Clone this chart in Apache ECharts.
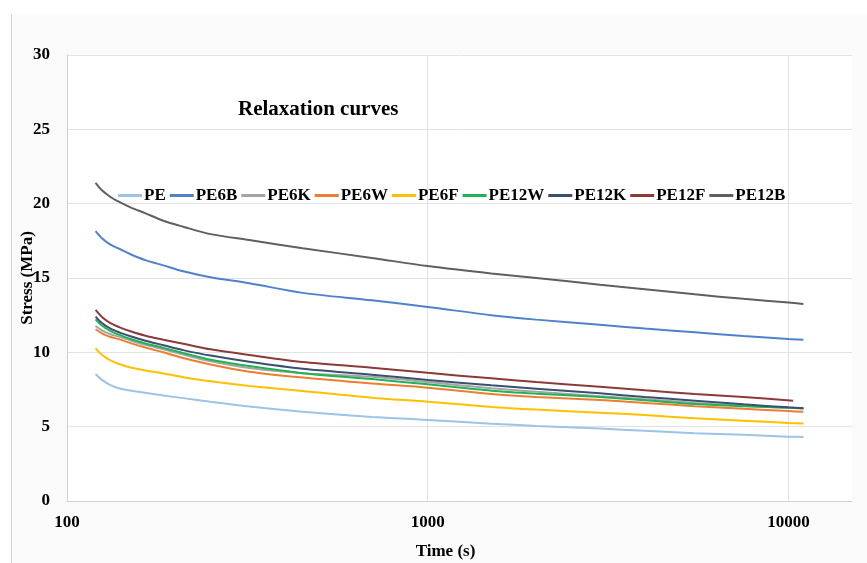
<!DOCTYPE html>
<html>
<head>
<meta charset="utf-8">
<script src="https://cdn.jsdelivr.net/npm/echarts@6/dist/echarts.min.js"></script>
<style>
  html, body { margin: 0; padding: 0; background: #ffffff; }
  #bg { position: absolute; left: 11px; top: 14px; width: 856px; height: 549px; background: #fafafa; border-left: 1px solid #d4d4d4; }
  #chart { position: absolute; left: 0; top: 0; width: 867px; height: 563px; }
</style>
</head>
<body>
<div id="bg"></div>
<div id="chart"></div>
<script>
// ---- Data ----
const times      = [120, 125, 132, 140, 150, 165, 185, 210, 250, 320, 450, 700, 1000, 1500, 2000, 3000, 4000, 5500, 7500, 10000, 11000];
const timesPE12F = [120, 125, 132, 140, 150, 165, 185, 210, 250, 320, 450, 700, 1000, 1500, 2000, 3000, 4000, 5500, 7500, 10300];

const PE    = [8.54, 8.15, 7.80, 7.57, 7.43, 7.27, 7.09, 6.92, 6.68, 6.35, 6.00, 5.65, 5.45, 5.20, 5.05, 4.87, 4.72, 4.56, 4.45, 4.33, 4.30];
const PE6B  = [18.15, 17.67, 17.24, 16.95, 16.60, 16.20, 15.85, 15.45, 15.05, 14.65, 14.00, 13.50, 13.05, 12.50, 12.20, 11.85, 11.60, 11.35, 11.10, 10.90, 10.85];
const PE6K  = [11.77, 11.48, 11.22, 11.04, 10.80, 10.50, 10.20, 9.85, 9.40, 8.95, 8.60, 8.35, 8.00, 7.58, 7.35, 7.05, 6.85, 6.60, 6.40, 6.28, 6.22];
const PE6W  = [11.55, 11.28, 11.03, 10.87, 10.62, 10.32, 10.00, 9.62, 9.18, 8.70, 8.30, 7.90, 7.62, 7.20, 7.00, 6.80, 6.60, 6.38, 6.20, 6.05, 6.00];
const PE6F  = [10.27, 9.84, 9.46, 9.20, 8.98, 8.78, 8.58, 8.33, 8.05, 7.74, 7.40, 6.95, 6.68, 6.33, 6.15, 5.94, 5.78, 5.56, 5.40, 5.25, 5.22];
const PE12W = [12.22, 11.80, 11.42, 11.17, 10.90, 10.60, 10.30, 9.95, 9.50, 9.08, 8.60, 8.20, 7.85, 7.42, 7.22, 7.00, 6.78, 6.52, 6.38, 6.27, 6.24];
const PE12K = [12.40, 11.97, 11.59, 11.33, 11.08, 10.78, 10.48, 10.15, 9.78, 9.37, 8.90, 8.50, 8.14, 7.78, 7.55, 7.24, 7.00, 6.75, 6.50, 6.30, 6.24];
const PE12F = [12.85, 12.38, 11.96, 11.68, 11.42, 11.12, 10.85, 10.58, 10.20, 9.82, 9.35, 8.97, 8.62, 8.25, 8.00, 7.69, 7.45, 7.20, 7.00, 6.75];
const PE12B = [21.40, 20.90, 20.45, 20.10, 19.75, 19.35, 18.85, 18.45, 17.95, 17.55, 17.00, 16.35, 15.80, 15.30, 15.00, 14.55, 14.25, 13.90, 13.60, 13.35, 13.25];

const seriesNames  = ['PE', 'PE6B', 'PE6K', 'PE6W', 'PE6F', 'PE12W', 'PE12K', 'PE12F', 'PE12B'];
const seriesValues = [PE, PE6B, PE6K, PE6W, PE6F, PE12W, PE12K, PE12F, PE12B];
const seriesTimes  = [times, times, times, times, times, times, times, timesPE12F, times];
const seriesColors = ['#9dc3e6', '#4f81cc', '#a5a5a5', '#ed7d31', '#ffc000', '#1fb356', '#3b4f6f', '#8b3a3a', '#5f5f5f'];

const xTickLabels = [100, 1000, 10000];
const yTicks = { min: 0, max: 30, interval: 5 };

const FONT = '"Liberation Serif", "DejaVu Serif", serif';

const chart = echarts.init(document.getElementById('chart'), null, { renderer: 'canvas' });

const series = seriesNames.map((name, i) => ({
  name: name,
  type: 'line',
  symbol: 'none',
  smooth: 0.3,
  lineStyle: { width: 2, color: seriesColors[i] },
  itemStyle: { color: seriesColors[i] },
  data: seriesTimes[i].map((t, j) => [t, seriesValues[i][j]])
}));

chart.setOption({
  animation: false,
  backgroundColor: 'transparent',
  title: {
    text: 'Relaxation curves',
    left: 233, top: 94,
    textStyle: { fontFamily: FONT, fontWeight: 'bold', fontSize: 21, color: '#000' }
  },
  legend: {
    data: seriesNames,
    left: 113, top: 182,
    itemWidth: 24, itemHeight: 3, itemGap: 4,
    icon: 'rect',
    textStyle: { fontFamily: FONT, fontWeight: 'bold', fontSize: 17, color: '#000', padding: [0, 0, 0, -3] }
  },
  grid: {
    left: 67, right: 15, top: 55, bottom: 62,
    containLabel: false,
    outerBoundsMode: 'none',
    show: true, backgroundColor: '#ffffff', borderWidth: 0
  },
  xAxis: {
    type: 'log', logBase: 10, min: 100, max: 15000,
    name: 'Time (s)', nameLocation: 'middle', nameGap: 42, nameMoveOverlap: false,
    nameTextStyle: { fontFamily: FONT, fontWeight: 'bold', fontSize: 17, color: '#000', padding: [0, 28, 0, 0] },
    axisLine: { show: true, lineStyle: { color: '#d0d0d0', width: 1 } },
    axisTick: { show: false },
    axisLabel: {
      margin: 13,
      fontFamily: FONT, fontWeight: 'bold', fontSize: 17, color: '#000',
      formatter: v => { const r = Math.round(v); return xTickLabels.indexOf(r) >= 0 ? String(r) : ''; }
    },
    splitLine: { show: true, lineStyle: { color: ['#e2e2e2', '#e2e2e2', '#e2e2e2', 'rgba(0,0,0,0)'], width: 1 } }
  },
  yAxis: {
    type: 'value', min: yTicks.min, max: yTicks.max, interval: yTicks.interval,
    name: 'Stress (MPa)', nameLocation: 'middle', nameGap: 31, nameMoveOverlap: false,
    nameTextStyle: { fontFamily: FONT, fontWeight: 'bold', fontSize: 17, color: '#000' },
    axisLine: { show: true, lineStyle: { color: '#d0d0d0', width: 1 } },
    axisTick: { show: false },
    axisLabel: { margin: 17, fontFamily: FONT, fontWeight: 'bold', fontSize: 17, color: '#000' },
    splitLine: { show: true, lineStyle: { color: '#e2e2e2', width: 1 } }
  },
  series: series
});
</script>
</body>
</html>
